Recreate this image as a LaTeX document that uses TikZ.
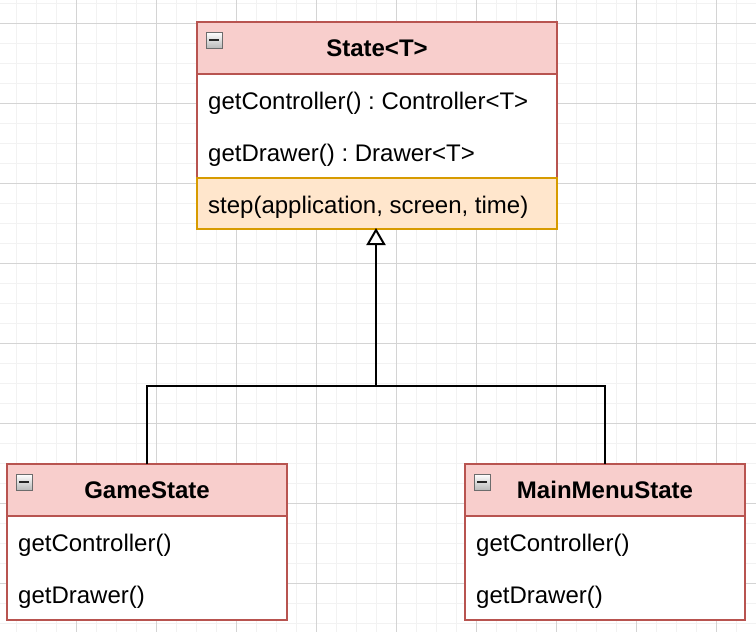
\documentclass[tikz,border=0pt]{standalone}
\usepackage{fontspec}
\setmainfont{Liberation Sans}
\usetikzlibrary{arrows.meta}
\usetikzlibrary{positioning}
\usetikzlibrary{calc}
\definecolor{hdrfill}{HTML}{F8CECC}
\definecolor{hdrline}{HTML}{B85450}
\definecolor{opfill}{HTML}{FFE6CC}
\definecolor{opline}{HTML}{D79B00}
\definecolor{gridminor}{HTML}{F2F2F2}
\definecolor{gridmajor}{HTML}{D4D4D4}
\frenchspacing

\begin{document}
\begin{tikzpicture}[x=1pt, y=-1pt,
    font=\fontsize{24}{28}\selectfont,
    hdr/.style={draw=hdrline, fill=hdrfill, line width=2pt, outer sep=0pt, minimum width=#1, minimum height=52pt, inner sep=0pt, font=\fontsize{24}{28}\selectfont\bfseries},
    classbody/.style={draw=hdrline, fill=white, line width=2pt, outer sep=0pt, minimum width=#1, minimum height=104pt, inner sep=0pt},
    oprow/.style={draw=opline, fill=opfill, line width=2pt, outer sep=0pt, minimum width=#1, minimum height=51pt, inner sep=0pt},
    member/.style={anchor=west, inner sep=0pt},
    fold/.style={draw=gray!85!black, top color=white, bottom color=gray!55, minimum size=16pt, inner sep=0pt,
        path picture={\draw[line width=2pt, black!85] ([xshift=-5pt]path picture bounding box.center) -- ([xshift=5pt]path picture bounding box.center);}},
    link/.style={line width=2pt, black}]
                    \useasboundingbox (0,0) rectangle (756,632);
                    \fill[white] (0,0) rectangle (756,632);
                    % background grid
                    \foreach \gx in {16.7,36.7,...,756} \draw[gridminor, line width=1pt] (\gx,0) -- (\gx,632);
                    \foreach \gy in {3.3,23.3,...,632} \draw[gridminor, line width=1pt] (0,\gy) -- (756,\gy);
                    \foreach \gx in {76.7,156.7,...,756} \draw[gridmajor, line width=1pt] (\gx,0) -- (\gx,632);
                    \foreach \gy in {23.3,103.3,...,632} \draw[gridmajor, line width=1pt] (0,\gy) -- (756,\gy);
                    % State<T>
                    \node[classbody=360pt, anchor=north] (statebody) at (377,74) {};
                    \node[hdr=360pt, above=0pt of statebody] (state) {State<T>};
                    \node[oprow=360pt, below=0pt of statebody] (step) {};
                    \node[fold, below right=10pt and 9pt of state.north west] (statefold) {};
                    \node[member] (statectrl) at ($(statebody.north west)+(11,29)$) {getController() : Controller<T>};
                    \node[member] (statedraw) at ($(statebody.north west)+(11,81)$) {getDrawer() : Drawer<T>};
                    \node[member] (stepop) at ($(step.west)+(11,4)$) {step(application, screen, time)};
                    % GameState
                    \node[classbody=280pt, anchor=north] (gamebody) at (147,516) {};
                    \node[hdr=280pt, above=0pt of gamebody] (game) {GameState};
                    \node[fold, below right=10pt and 9pt of game.north west] (gamefold) {};
                    \node[member] (gamectrl) at ($(gamebody.north west)+(11,29)$) {getController()};
                    \node[member] (gamedraw) at ($(gamebody.north west)+(11,81)$) {getDrawer()};
                    % MainMenuState
                    \node[classbody=280pt, anchor=north] (menubody) at (605,516) {};
                    \node[hdr=280pt, above=0pt of menubody] (menu) {MainMenuState};
                    \node[fold, below right=10pt and 9pt of menu.north west] (menufold) {};
                    \node[member] (menuctrl) at ($(menubody.north west)+(11,29)$) {getController()};
                    \node[member] (menudraw) at ($(menubody.north west)+(11,81)$) {getDrawer()};
                    % inheritance
                    \coordinate (split) at (376,386);
                    \draw[link] (game.north) |- (split) -| (menu.north);
                    \draw[link, -{Triangle[open, fill=white, length=17pt, width=19pt, line width=2pt]}] (split) -- ([yshift=1pt]split |- step.south);
                \end{tikzpicture}
\end{document}
